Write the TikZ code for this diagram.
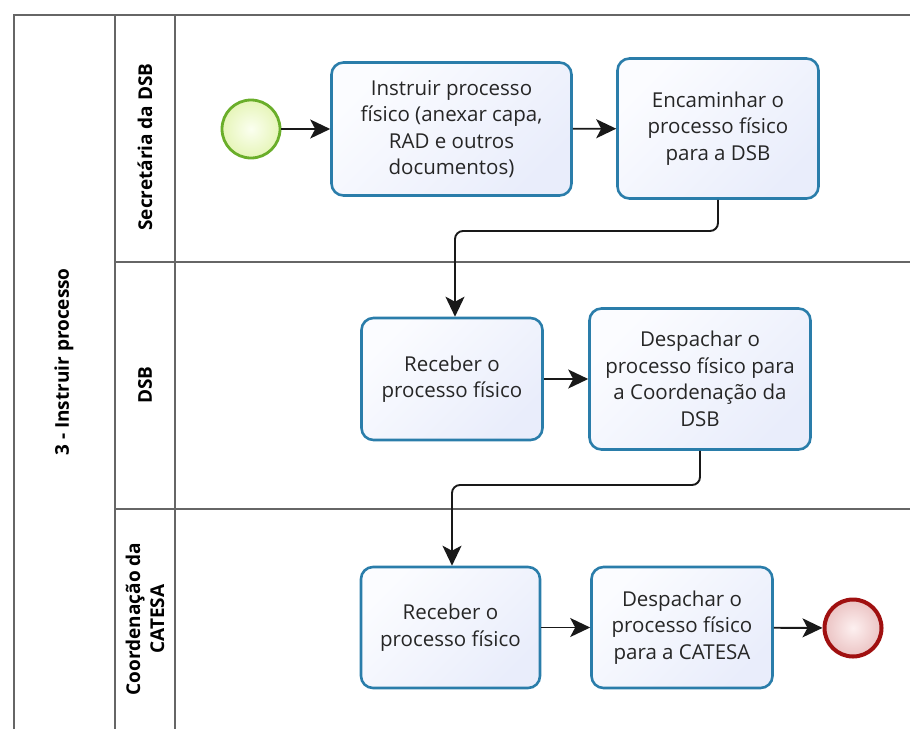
\documentclass[tikz,border=0pt]{standalone}
\usepackage{fontspec}
\setmainfont{Open Sans}
\usetikzlibrary{arrows.meta}
\definecolor{taskline}{HTML}{2A7DAA}
\definecolor{taskfillA}{HTML}{FBFCFF}
\definecolor{taskfillB}{HTML}{E9EDFB}
\definecolor{poolline}{HTML}{666666}
\definecolor{startline}{HTML}{6AAE2A}
\definecolor{startfillA}{HTML}{FBFFF0}
\definecolor{startfillB}{HTML}{E6F5B8}
\definecolor{endline}{HTML}{A01010}
\definecolor{endfillA}{HTML}{FDF0F0}
\definecolor{endfillB}{HTML}{EBC3C3}
\tikzset{
  task/.style={draw=taskline, line width=2.6pt, rounded corners=12pt,
    left color=taskfillA, right color=taskfillB, shading angle=45,
    align=center, font=\fontsize{20.5}{26.5}\selectfont, inner sep=0pt, text=black!85},
  startev/.style={circle, draw=startline, line width=2.8pt,
    inner color=startfillA, outer color=startfillB, minimum size=58pt, inner sep=0pt},
  endev/.style={circle, draw=endline, line width=4pt,
    inner color=endfillA, outer color=endfillB, minimum size=57pt, inner sep=0pt},
  flow/.style={line width=1.9pt, draw=black!90, rounded corners=8pt,
    -{Stealth[length=20pt,width=19pt,inset=5pt]}},
  poolln/.style={draw=poolline, line width=1.6pt},
  lanelabel/.style={rotate=90, font=\bfseries\fontsize{19}{24}\selectfont, align=center},
}
\begin{document}
\begin{tikzpicture}[x=1pt,y=-1pt]
\useasboundingbox (0,0) rectangle (910,729);
% pool frame
\draw[poolln] (14,729) -- (14,15) -- (910,15);
\draw[poolln] (115,15) -- (115,729);
\draw[poolln] (175,15) -- (175,729);
\draw[poolln] (115,262) -- (910,262);
\draw[poolln] (115,509) -- (910,509);
% labels
\node[lanelabel] (pool) at (64,362) {3 - Instruir processo};
\node[lanelabel] (lane1) at (145,147) {Secretária da DSB};
\node[lanelabel] (lane2) at (145,385) {DSB};
\node[lanelabel] (lane3) at (145,619) {Coordenação da\\CATESA};
% events and tasks
\node[startev] (start) at (251,129) {};
\node[task, minimum width=240pt, minimum height=133pt] (t1) at (451.5,129) {Instruir processo\\físico (anexar capa,\\RAD e outros\\documentos)};
\node[task, minimum width=201pt, minimum height=140pt] (t2) at (718,128.5) {Encaminhar o\\processo físico\\para a DSB};
\node[task, minimum width=181pt, minimum height=122pt] (t3) at (452,379) {Receber o\\processo físico};
\node[task, minimum width=221pt, minimum height=141pt] (t4) at (700,379) {Despachar o\\processo físico para\\a Coordenação da\\DSB};
\node[task, minimum width=179pt, minimum height=121pt] (t5) at (450.5,627.5) {Receber o\\processo físico};
\node[task, minimum width=181pt, minimum height=121pt] (t6) at (682,627.5) {Despachar o\\processo físico\\para a CATESA};
\node[endev] (end) at (853,628) {};
% flows
\coordinate (c1) at (718,231);
\coordinate (c2) at (455,231);
\coordinate (c3) at (700,485);
\coordinate (c4) at (452,485);
\draw[flow] (start) -- (t1);
\draw[flow] (t1) -- (t2);
\draw[flow] (t2.south) -- (c1) -- (c2) -- (t3.north -| c2);
\draw[flow] (t3) -- (t4);
\draw[flow] (t4.south) -- (c3) -- (c4) -- (t5.north -| c4);
\draw[flow] (t5) -- (t6);
\draw[flow] (t6) -- (end);
\end{tikzpicture}
\end{document}
